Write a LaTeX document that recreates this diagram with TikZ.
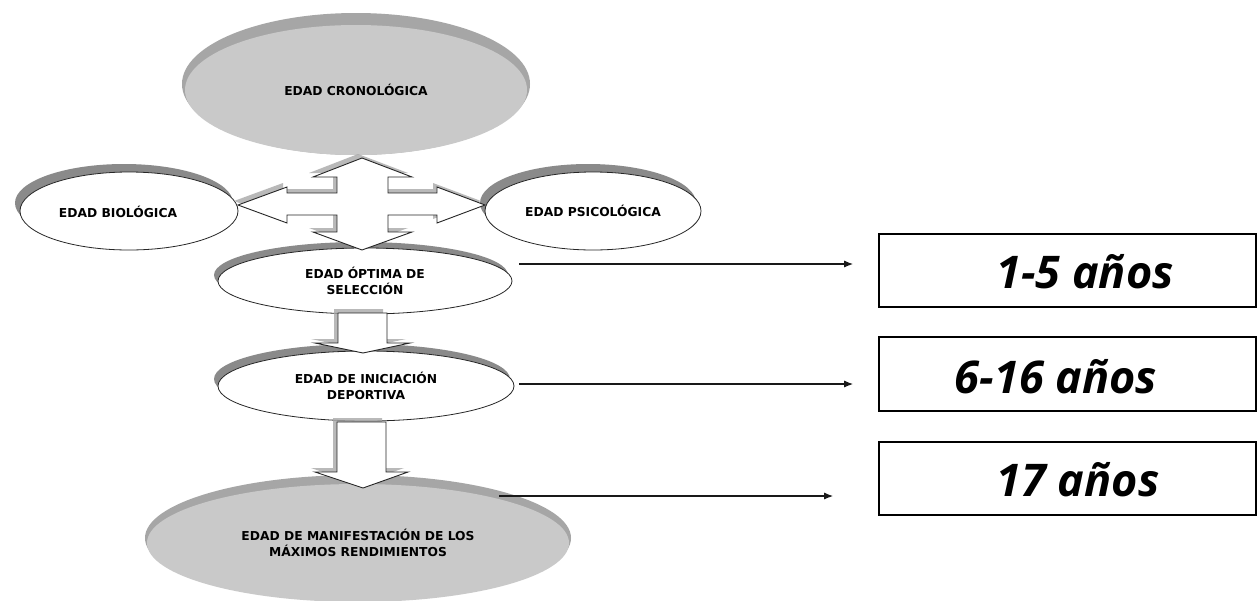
\documentclass[tikz,border=0pt]{standalone}
\usepackage{fontspec}
\setmainfont{DejaVu Sans}
\newfontfamily\agefont{Open Sans}
\usetikzlibrary{shapes.geometric,arrows.meta}
\definecolor{shadowcol}{HTML}{8A8A8A}
\definecolor{disklight}{HTML}{C9C9C9}
\definecolor{diskdark}{HTML}{A6A6A6}
\definecolor{blurcol}{HTML}{A8A8A8}
\tikzset{
  lbl/.style={font=\fontsize{12.3}{15.5}\selectfont\bfseries, align=center},
  whiteell/.style={ellipse, draw=black!85, line width=0.8pt, fill=white, inner sep=0pt, lbl},
  grayell/.style={ellipse, fill=disklight, inner sep=0pt, lbl},
  blockarrow/.style={fill=white, draw=black!85, line width=0.9pt, line join=miter},
  blockshadow/.style={fill=blurcol, opacity=0.8},
  agebox/.style={draw=black, line width=1.6pt, fill=white, inner sep=0pt},
  agetext/.style={font=\agefont\fontsize{45}{50}\selectfont\bfseries\itshape, inner sep=0pt},
  thinarrow/.style={draw=black!90, line width=1.2pt, -{Latex[length=9pt,width=7pt]}}
}
\begin{document}
\begin{tikzpicture}[x=1pt,y=-1pt]
\useasboundingbox (0,0) rectangle (1257,600);
\fill[white] (0,0) rectangle (1257,600);

% top gray disk
\fill[diskdark] (356,84) ellipse [x radius=174pt, y radius=71pt];
\node[grayell, minimum width=342pt, minimum height=130pt] (cron) at (356,90) {EDAD CRONOLÓGICA};

% bottom gray disk
\fill[diskdark] (358,538) ellipse [x radius=213pt, y radius=63pt];
\node[grayell, minimum width=422pt, minimum height=118pt] (max) at (358,543) {EDAD DE MANIFESTACIÓN DE LOS\\MÁXIMOS RENDIMIENTOS};

% white ellipses with shadows
\fill[shadowcol] (124,203) ellipse [x radius=109pt, y radius=39pt];
\node[whiteell, minimum width=218pt, minimum height=78pt] (bio) at (129,211) {};
\node[lbl] (biot) at (118,212) {EDAD BIOLÓGICA};

\fill[shadowcol] (588,203) ellipse [x radius=108pt, y radius=39pt];
\node[whiteell, minimum width=216pt, minimum height=78pt] (psi) at (593,211) {EDAD PSICOLÓGICA};

\fill[shadowcol] (361,275) ellipse [x radius=147pt, y radius=33pt];
\node[whiteell, minimum width=294pt, minimum height=66pt] (opt) at (365,281) {EDAD ÓPTIMA DE\\SELECCIÓN};

\fill[shadowcol] (362,379) ellipse [x radius=148pt, y radius=35pt];
\node[whiteell, minimum width=296pt, minimum height=70pt] (ini) at (366,386) {EDAD DE INICIACIÓN\\DEPORTIVA};

% quad arrow
\path[blockshadow, shift={(-4,-4)}] (362,158) -- (412,177) -- (388,177) -- (388,193) -- (437,193) -- (437,187) -- (485,205) -- (437,223) -- (437,215) -- (388,215) -- (388,232) -- (412,232) -- (362,250) -- (313,232) -- (337,232) -- (337,215) -- (287,215) -- (287,223) -- (238,205) -- (287,187) -- (287,193) -- (337,193) -- (337,177) -- (313,177) -- cycle;
\path[blockarrow] (362,158) -- (412,177) -- (388,177) -- (388,193) -- (437,193) -- (437,187) -- (485,205) -- (437,223) -- (437,215) -- (388,215) -- (388,232) -- (412,232) -- (362,250) -- (313,232) -- (337,232) -- (337,215) -- (287,215) -- (287,223) -- (238,205) -- (287,187) -- (287,193) -- (337,193) -- (337,177) -- (313,177) -- cycle;

% down arrows
\path[blockshadow, shift={(-4,-4)}] (338,313) -- (387,313) -- (387,343) -- (410,343) -- (363,353) -- (315,343) -- (338,343) -- cycle;
\path[blockarrow] (338,313) -- (387,313) -- (387,343) -- (410,343) -- (363,353) -- (315,343) -- (338,343) -- cycle;
\path[blockshadow, shift={(-4,-4)}] (337,422) -- (386,422) -- (386,472) -- (408,472) -- (363,488) -- (315,472) -- (337,472) -- cycle;
\path[blockarrow] (337,422) -- (386,422) -- (386,472) -- (408,472) -- (363,488) -- (315,472) -- (337,472) -- cycle;

% age boxes
\node[agebox, minimum width=377pt, minimum height=73pt] (b1) at (1067.5,270.5) {};
\node[agetext] (t1) at (1085,272) {1-5 años};
\node[agebox, minimum width=377pt, minimum height=74pt] (b2) at (1067.5,374) {};
\node[agetext] (t2) at (1056,377) {6-16 años};
\node[agebox, minimum width=377pt, minimum height=73pt] (b3) at (1067.5,478.5) {};
\node[agetext] (t3) at (1078,480) {17 años};

% connectors
\coordinate (s1) at (519,264);
\coordinate (s2) at (519,384);
\coordinate (s3) at (499,496);
\draw[thinarrow, shorten >=25pt] (s1) -- (s1 -| b1.west);
\draw[thinarrow, shorten >=25pt] (s2) -- (s2 -| b2.west);
\draw[thinarrow, shorten >=45pt] (s3) -- (s3 -| b3.west);
\end{tikzpicture}
\end{document}
